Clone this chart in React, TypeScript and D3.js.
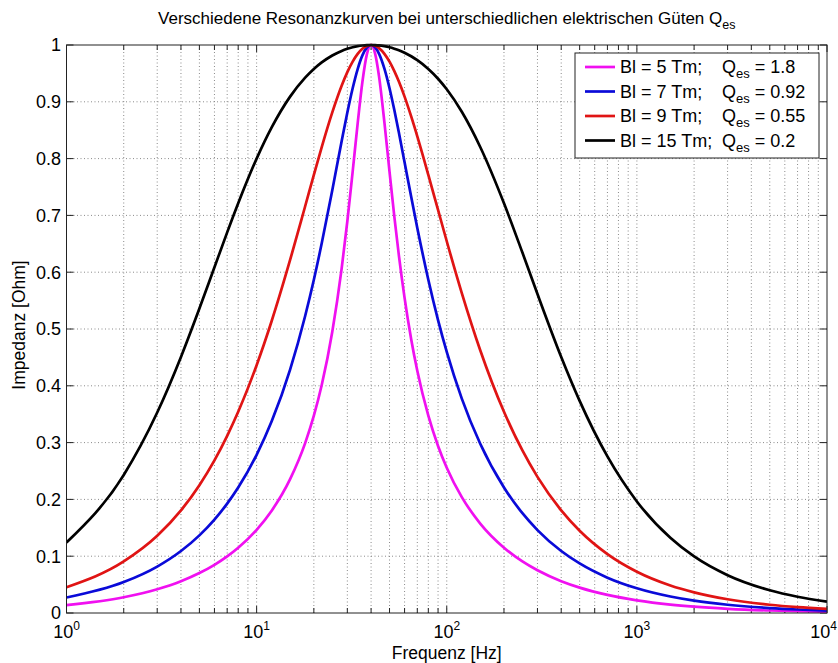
import React from "react";
import * as d3 from "d3";

const freqs = [1, 2, 3, 4, 5, 6, 7, 8, 10, 12, 15, 18, 20, 22, 25, 28, 30, 32, 34, 36, 38, 40, 42, 44, 47, 50, 53, 56, 60, 65, 70, 80, 90, 100, 120, 150, 200, 250, 300, 400, 500, 700, 1000, 1500, 2000, 3000, 5000, 7000, 10000];

const bl5 = [0.0139, 0.0278, 0.0419, 0.056, 0.0704, 0.0849, 0.0998, 0.115, 0.1465, 0.1801, 0.2356, 0.2991, 0.3473, 0.4013, 0.4951, 0.6063, 0.6897, 0.7771, 0.8621, 0.9348, 0.9834, 1, 0.9849, 0.9457, 0.8639, 0.7771, 0.6978, 0.6295, 0.5547, 0.4821, 0.4264, 0.3473, 0.2941, 0.2558, 0.204, 0.1575, 0.115, 0.0908, 0.0752, 0.056, 0.0447, 0.0318, 0.0223, 0.0148, 0.0111, 0.0074, 0.0044, 0.0032, 0.0022];
const bl7 = [0.0272, 0.0544, 0.0817, 0.1091, 0.1367, 0.1645, 0.1926, 0.2209, 0.2784, 0.3374, 0.4285, 0.5229, 0.5868, 0.6508, 0.7444, 0.8306, 0.8811, 0.9239, 0.9577, 0.9817, 0.9956, 1, 0.996, 0.9849, 0.9583, 0.9239, 0.8855, 0.8458, 0.7936, 0.7327, 0.678, 0.5868, 0.5157, 0.4597, 0.3775, 0.2979, 0.2209, 0.1757, 0.146, 0.1091, 0.0872, 0.0622, 0.0435, 0.029, 0.0217, 0.0145, 0.0087, 0.0062, 0.0043];
const bl9 = [0.0454, 0.0908, 0.1359, 0.1806, 0.225, 0.2687, 0.3119, 0.3542, 0.4363, 0.5141, 0.6215, 0.7161, 0.7714, 0.8202, 0.8813, 0.9282, 0.9522, 0.9707, 0.9843, 0.9933, 0.9984, 1, 0.9986, 0.9945, 0.9845, 0.9707, 0.9541, 0.9357, 0.9091, 0.8742, 0.8391, 0.7714, 0.7096, 0.6545, 0.5633, 0.4627, 0.3542, 0.2861, 0.2396, 0.1806, 0.1448, 0.1037, 0.0727, 0.0485, 0.0364, 0.0242, 0.0145, 0.0104, 0.0073];
const bl15 = [0.1241, 0.2431, 0.3529, 0.4508, 0.536, 0.6087, 0.6701, 0.7214, 0.8, 0.8549, 0.9091, 0.9425, 0.9578, 0.9693, 0.9815, 0.9896, 0.9933, 0.996, 0.9979, 0.9991, 0.9998, 1, 0.9998, 0.9993, 0.9979, 0.996, 0.9935, 0.9907, 0.9864, 0.9802, 0.9733, 0.9578, 0.9406, 0.922, 0.8824, 0.8205, 0.7214, 0.6346, 0.5616, 0.4508, 0.3735, 0.2756, 0.1964, 0.1323, 0.0995, 0.0665, 0.04, 0.0286, 0.02];

const seriesNames = ["Bl = 5 Tm;", "Bl = 7 Tm;", "Bl = 9 Tm;", "Bl = 15 Tm;"];
const seriesQ = ["1.8", "0.92", "0.55", "0.2"];
const seriesValues = [bl5, bl7, bl9, bl15];
const seriesColors = ["#f010f0", "#0a0ad8", "#e01414", "#000000"];

const yTicks = [0, 0.1, 0.2, 0.3, 0.4, 0.5, 0.6, 0.7, 0.8, 0.9, 1];
const yTickLabels = ["0", "0.1", "0.2", "0.3", "0.4", "0.5", "0.6", "0.7", "0.8", "0.9", "1"];
const xMajor = [1, 10, 100, 1000, 10000];
const xExponents = ["0", "1", "2", "3", "4"];

const titleText = "Verschiedene Resonanzkurven bei unterschiedlichen elektrischen Güten Q";
const xLabel = "Frequenz [Hz]";
const yLabel = "Impedanz [Ohm]";

const W = 838;
const H = 663;
const L = 66.5;
const R = 827;
const T = 45;
const B = 613;
const FONT = "'Liberation Sans', Arial, Helvetica, sans-serif";

export default function App() {
  const x = d3.scaleLog().domain([1, 10000]).range([L, R]);
  const y = d3.scaleLinear().domain([0, 1]).range([B, T]);

  const minor: number[] = [];
  for (let k = 0; k < 4; k++) {
    for (let m = 2; m <= 9; m++) minor.push(m * Math.pow(10, k));
  }
  const allX = [...minor, ...xMajor];

  const line = d3
    .line<number>()
    .x((_, i) => x(freqs[i]))
    .y((v) => y(v))
    .curve(d3.curveMonotoneX);

  const legX = 575;
  const legY = 53;
  const legW = 244;
  const legH = 105;

  return (
    <svg
      width={W}
      height={H}
      style={{ position: "absolute", left: 0, top: 0, background: "#fff" }}
      fontFamily={FONT}
    >
      <rect x={0} y={0} width={W} height={H} fill="#fff" />
      <defs>
        <clipPath id="plotclip">
          <rect x={L} y={T - 2} width={R - L} height={B - T + 2} />
        </clipPath>
      </defs>

      {/* grid */}
      <g stroke="#8a8a8a" strokeWidth={1} strokeDasharray="1 2.5">
        {allX
          .filter((v) => v > 1 && v < 10000)
          .map((v) => (
            <line key={"gx" + v} x1={x(v)} x2={x(v)} y1={T} y2={B} />
          ))}
        {yTicks
          .filter((v) => v > 0 && v < 1)
          .map((v) => (
            <line key={"gy" + v} x1={L} x2={R} y1={y(v)} y2={y(v)} />
          ))}
      </g>

      {/* ticks */}
      <g stroke="#222" strokeWidth={1}>
        {allX.map((v) => {
          const len = xMajor.includes(v) ? 7 : 5;
          return (
            <g key={"tx" + v}>
              <line x1={x(v)} x2={x(v)} y1={B} y2={B - len} />
              <line x1={x(v)} x2={x(v)} y1={T} y2={T + len} />
            </g>
          );
        })}
        {yTicks.map((v) => (
          <g key={"ty" + v}>
            <line x1={L} x2={L + 7} y1={y(v)} y2={y(v)} />
            <line x1={R} x2={R - 7} y1={y(v)} y2={y(v)} />
          </g>
        ))}
      </g>

      {/* curves */}
      <g clipPath="url(#plotclip)" fill="none" strokeWidth={2.7} strokeLinejoin="round">
        {seriesValues.map((vals, i) => (
          <path key={"s" + i} d={line(vals) || ""} stroke={seriesColors[i]} />
        ))}
      </g>

      {/* axes box */}
      <rect x={L} y={T} width={R - L} height={B - T} fill="none" stroke="#222" strokeWidth={1} />

      {/* y tick labels */}
      <g fontSize={18} fill="#000" textAnchor="end">
        {yTicks.map((v, i) => (
          <text key={"yl" + v} x={61} y={y(v)} dy="0.36em">
            {yTickLabels[i]}
          </text>
        ))}
      </g>

      {/* x tick labels */}
      <g fontSize={18} fill="#000">
        {xMajor.map((v, i) => {
          const last = i === xMajor.length - 1;
          return (
            <text
              key={"xl" + v}
              x={last ? 837 : x(v)}
              y={638}
              textAnchor={last ? "end" : "middle"}
            >
              <tspan>10</tspan>
              <tspan fontSize={12} dy={-8}>
                {xExponents[i]}
              </tspan>
            </text>
          );
        })}
      </g>

      {/* axis labels */}
      <text x={(L + R) / 2} y={659} fontSize={17.5} textAnchor="middle" fill="#000">
        {xLabel}
      </text>
      <text
        transform={`translate(25, ${(T + B) / 2 - 4}) rotate(-90)`}
        fontSize={17.5}
        textAnchor="middle"
        fill="#000"
      >
        {yLabel}
      </text>

      {/* title */}
      <text x={(L + R) / 2} y={24} fontSize={17} textAnchor="middle" fill="#000">
        <tspan>{titleText}</tspan>
        <tspan fontSize={12.5} dy={5}>
          es
        </tspan>
      </text>

      {/* legend */}
      <g>
        <rect x={legX} y={legY} width={legW} height={legH} fill="#fff" stroke="#222" strokeWidth={1} />
        {seriesNames.map((name, i) => {
          const cy = legY + 14 + i * 24.5;
          return (
            <g key={"lg" + i}>
              <line x1={585} x2={615} y1={cy} y2={cy} stroke={seriesColors[i]} strokeWidth={2.7} />
              <text x={620} y={cy + 6} fontSize={18} fill="#000">
                {name}
              </text>
              <text x={722} y={cy + 6} fontSize={18} fill="#000">
                <tspan>Q</tspan>
                <tspan fontSize={13} dy={5}>
                  es
                </tspan>
                <tspan dy={-5}>{" = " + seriesQ[i]}</tspan>
              </text>
            </g>
          );
        })}
      </g>
    </svg>
  );
}
